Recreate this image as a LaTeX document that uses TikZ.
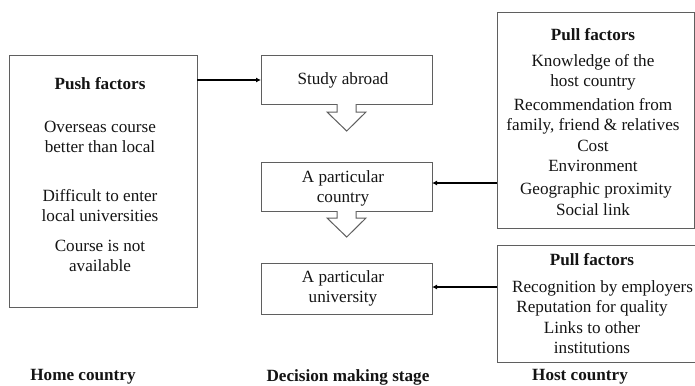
\documentclass[tikz,border=0pt]{standalone}
\usepackage{fontspec}
\setmainfont{Liberation Serif}
\definecolor{boxgray}{RGB}{95,95,95}
\definecolor{ink}{RGB}{20,20,20}
\begin{document}
\begin{tikzpicture}[x=1bp,y=-1bp,
  box/.style={draw=boxgray,line width=1bp,inner sep=0,outer sep=0},
  txt/.style={inner sep=0,text=ink,font=\fontsize{17.2}{20}\selectfont,align=center},
  btxt/.style={txt,font=\fontsize{17.2}{20}\selectfont\bfseries},
  conn/.style={draw=black,line width=1.8bp,-{Latex[length=5bp,width=5bp]}},
  hollow/.style={draw=boxgray,line width=1bp,fill=white}]
\usetikzlibrary{arrows.meta}
\clip (0,0) rectangle (695,385);
\fill[white] (0,0) rectangle (695,385);
% boxes
\node[box,minimum width=187bp,minimum height=252bp] (push) at (103.5,181) {};
\node[box,minimum width=171bp,minimum height=49bp] (study) at (346.5,79.5) {};
\node[box,minimum width=171bp,minimum height=49bp] (country) at (346.5,186.5) {};
\node[box,minimum width=171bp,minimum height=51bp] (univ) at (346.5,288.5) {};
\node[box,minimum width=197bp,minimum height=216bp] (pull1) at (595.5,120) {};
\node[box,minimum width=212bp,minimum height=117bp] (pull2) at (603,303.5) {};
% push text
\node[btxt] (pushT) at (100,84) {Push factors};
\node[txt] (p1) at (100,137) {Overseas course\\better than local};
\node[txt] (p2) at (100,206) {Difficult to enter\\local universities};
\node[txt] (p3) at (100,256) {Course is not\\available};
% stage text
\node[txt] (sT) at (343,80) {Study abroad};
\node[txt] (cT) at (343,188) {A particular\\country};
\node[txt] (uT) at (343,288) {A particular\\university};
% pull 1 text
\node[btxt] (pf1) at (593,35) {Pull factors};
\node[txt] (q1) at (593,72) {Knowledge of the\\host country};
\node[txt] (q2) at (593,116) {Recommendation from\\family, friend \& relatives};
\node[txt] (q3) at (593,146) {Cost};
\node[txt] (q4) at (593,166) {Environment};
\node[txt] (q5) at (596,190) {Geographic proximity};
\node[txt] (q6) at (593,210) {Social link};
% pull 2 text
\node[btxt] (pf2) at (592,260) {Pull factors};
\node[txt,anchor=west] (r1) at (512,288) {Recognition by employers};
\node[txt] (r2) at (592,308) {Reputation for quality};
\node[txt] (r3) at (592,338) {Links to other\\institutions};
% bottom labels
\node[btxt] (home) at (83,377) {Home country};
\node[btxt] (dec) at (348,377) {Decision making stage};
\node[btxt] (host) at (580,377) {Host country};
% connectors
\draw[conn] (push.east |- 0,80) -- (study.west |- 0,80);
\draw[conn] (pull1.west |- 0,183) -- (country.east |- 0,183);
\draw[conn] (pull2.west |- 0,287) -- (univ.east |- 0,287);
% hollow arrows
\draw[hollow] (337,104) -- (337,112) -- (327,112) -- (346.7,131) -- (366,112) -- (356,112) -- (356,104);
\draw[hollow] (337,211) -- (337,218) -- (327,218) -- (346.7,237) -- (366,218) -- (356,218) -- (356,211);
\end{tikzpicture}
\end{document}
